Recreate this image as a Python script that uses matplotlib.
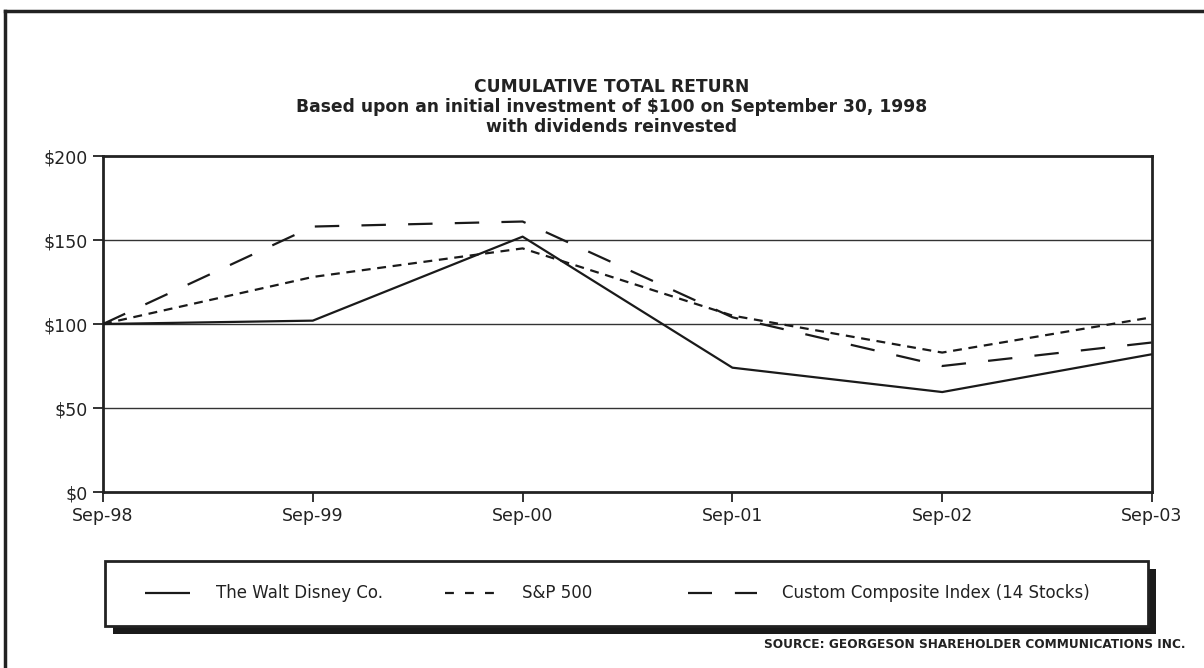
import matplotlib.pyplot as plt
from matplotlib.lines import Line2D
from matplotlib.patches import Rectangle

plt.rcParams['font.family'] = ['DejaVu Sans']

# data
periods = ['Sep-98', 'Sep-99', 'Sep-00', 'Sep-01', 'Sep-02', 'Sep-03']
disney = [100, 102, 152, 74, 59.5, 82]
sp500 = [100, 128, 145, 105, 83, 104]
composite = [100, 158, 161, 104, 75, 89]
series_names = ['The Walt Disney Co.', 'S&P 500', 'Custom Composite Index (14 Stocks)']
y_ticks = [0, 50, 100, 150, 200]
y_labels = ['$0', '$50', '$100', '$150', '$200']

W, H = 1204, 668
fig = plt.figure(figsize=(W / 100, H / 100), dpi=100)

# outer frame (open on right/bottom like the scan)
fig.add_artist(Line2D([5 / W, 5 / W], [1 - 11 / H, 0], color='#222222', lw=2.5))
fig.add_artist(Line2D([5 / W, 1], [1 - 11 / H, 1 - 11 / H], color='#222222', lw=2.5))

ax = fig.add_axes([103 / W, 1 - 492 / H, (1152 - 103) / W, (492 - 156) / H])
x = list(range(len(periods)))
styles = [(0, ()), (0, (4, 3)), (0, (11, 10))]
for vals, ls in zip([disney, sp500, composite], styles):
    ax.plot(x, vals, color='#1a1a1a', lw=1.6, linestyle=ls, zorder=3)

ax.set_xlim(0, 5)
ax.set_ylim(0, 200)
ax.set_xticks(x)
ax.set_xticklabels(periods, fontsize=12.5)
ax.set_yticks(y_ticks)
ax.set_yticklabels(y_labels, fontsize=12.5)
ax.tick_params(direction='out', length=7, width=1.3, color='#222222', pad=4, labelcolor='#222222')
for y in [50, 100, 150]:
    ax.axhline(y, color='#333333', lw=1.0, zorder=1)
for s in ax.spines.values():
    s.set_linewidth(2)
    s.set_color('#222222')

title_lines = ['CUMULATIVE TOTAL RETURN',
               'Based upon an initial investment of $100 on September 30, 1998',
               'with dividends reinvested']
for i, line in enumerate(title_lines):
    fig.text(612 / W, 1 - (87 + 20 * i) / H, line, ha='center', va='center',
             fontsize=12.3, fontweight='bold', color='#222222')

# legend box with drop shadow
lx0, lx1, ly0, ly1 = 105, 1148, 561, 626
fig.add_artist(Rectangle((113 / W, 1 - 634 / H), (lx1 - lx0) / W, (ly1 - ly0) / H,
                         transform=fig.transFigure, facecolor='#1a1a1a', edgecolor='none'))
fig.add_artist(Rectangle((lx0 / W, 1 - ly1 / H), (lx1 - lx0) / W, (ly1 - ly0) / H,
                         transform=fig.transFigure, facecolor='white', edgecolor='#222222', lw=2))
ly = 1 - 593 / H
handles = [(145, 190, 216), (445, 494, 522), (688, 757, 782)]
legend_styles = [(0, ()), (0, (4, 5)), (0, (10.8, 10.3))]
for (h0, h1, tx), ls, name in zip(handles, legend_styles, series_names):
    fig.add_artist(Line2D([h0 / W, h1 / W], [ly, ly], color='#1a1a1a', lw=1.6,
                          linestyle=ls, solid_capstyle='butt', dash_capstyle='butt'))
    fig.text(tx / W, ly, name, ha='left', va='center', fontsize=12, color='#222222')

fig.text(1186 / W, 1 - 645 / H, 'SOURCE: GEORGESON SHAREHOLDER COMMUNICATIONS INC.',
         ha='right', va='center', fontsize=8.7, fontweight='bold', color='#222222')

fig.savefig('out.png', dpi=100)
